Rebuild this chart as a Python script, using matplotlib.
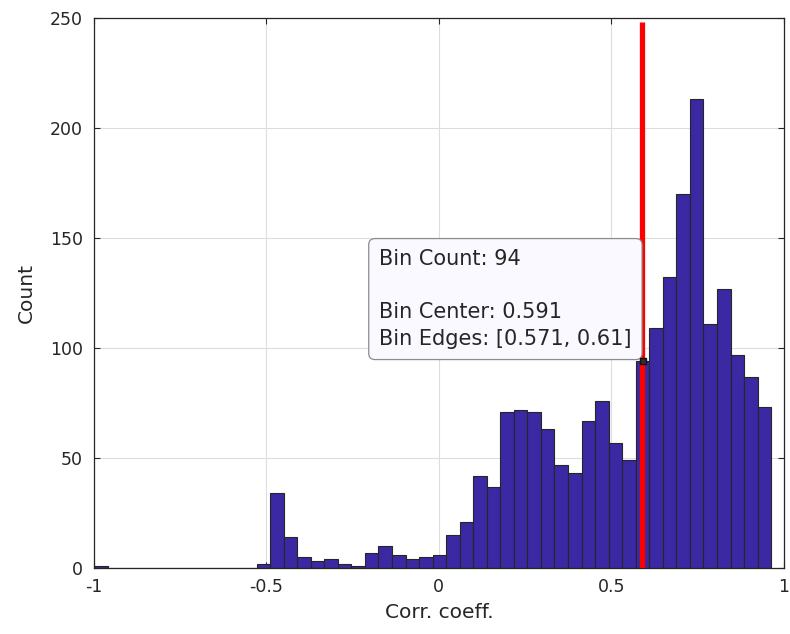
import numpy as np
import matplotlib
matplotlib.use("Agg")
import matplotlib.pyplot as plt

plt.rcParams["font.family"] = "DejaVu Sans"

# Histogram of correlation coefficients (50 bins starting at -1)
BIN_START = -1.0
BIN_WIDTH = 0.039275
counts = [1, 0, 0, 0, 0, 0, 0, 0, 0, 0,
          0, 0, 2, 34, 14, 5, 3, 4, 2, 1,
          7, 10, 6, 4, 5, 6, 15, 21, 42, 37,
          71, 72, 71, 63, 47, 43, 67, 76, 57, 49,
          94, 109, 132, 170, 213, 111, 127, 97, 87, 73]

threshold = 0.59          # red reference line
tip_bin = 40              # bin highlighted by the data tip
tip_center = 0.591
tip_edges = "[0.571, 0.61]"

xticks = [-1, -0.5, 0, 0.5, 1]
xticklabels = ["-1", "-0.5", "0", "0.5", "1"]
yticks = [0, 50, 100, 150, 200, 250]

TXT = "#262626"

fig = plt.figure(figsize=(7.9, 6.34), dpi=100)
ax = fig.add_axes([0.119, 0.104, 0.873, 0.868])

edges = BIN_START + BIN_WIDTH * np.arange(len(counts) + 1)
ax.bar(edges[:-1], counts, width=BIN_WIDTH, align="edge",
       color="#3a29a2", edgecolor="#262626", linewidth=0.8, zorder=2)

ax.plot([threshold, threshold], [0, 248], color="#ff0000", linewidth=3.8,
        solid_capstyle="butt", zorder=3)

ax.set_xlim(-1, 1)
ax.set_ylim(0, 250)
ax.set_xticks(xticks)
ax.set_xticklabels(xticklabels)
ax.set_yticks(yticks)
ax.grid(True, color="#dddddd", linewidth=0.8, zorder=0)
ax.set_axisbelow(True)
ax.tick_params(direction="in", length=4, width=0.8, colors=TXT,
               labelsize=12.5, top=True, right=True, labeltop=False, labelright=False)
ax.tick_params(axis="x", pad=7)
ax.tick_params(axis="y", pad=8)
for sp in ax.spines.values():
    sp.set_color(TXT)
    sp.set_linewidth(0.9)

ax.set_xlabel("Corr. coeff.", fontsize=14.5, color=TXT, labelpad=5)
ax.set_ylabel("Count", fontsize=14.5, color=TXT, labelpad=10)

# data tip
ax.plot(tip_center, counts[tip_bin], marker="s", markersize=5,
        color="#3a2a2a", markeredgecolor="#111111", zorder=5)
tip_text = (f"Bin Count: {counts[tip_bin]}\n\n"
            f"Bin Center: {tip_center}\n"
            f"Bin Edges: {tip_edges}")
ax.annotate(tip_text, xy=(tip_center, counts[tip_bin]),
            xytext=(-11, 12), textcoords="offset pixels",
            ha="right", va="bottom", multialignment="left",
            fontsize=15, color=TXT, linespacing=1.42,
            bbox=dict(boxstyle="round,pad=0.5,rounding_size=0.3",
                      facecolor="#f9f9ff", edgecolor="#8c8c8c", linewidth=0.9),
            zorder=4)

fig.savefig("out.png", dpi=100)
